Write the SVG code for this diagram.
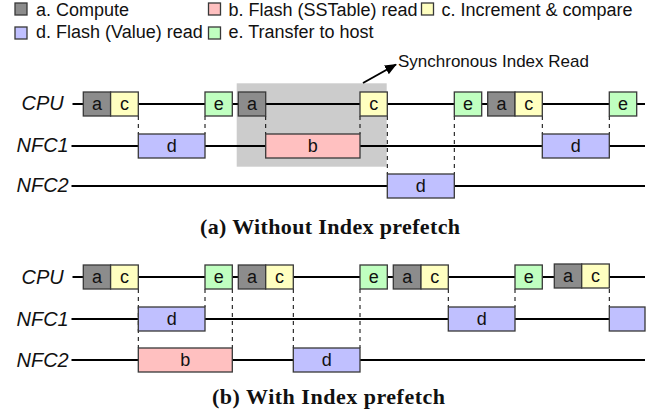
<svg xmlns="http://www.w3.org/2000/svg" width="670" height="417" viewBox="0 0 670 417">
  <defs>
    <style>
      .bx { stroke: #383838; stroke-width: 1.3; }
      .a { fill: #8c8c8c; }
      .b { fill: #ffc0c0; }
      .c { fill: #ffffc0; }
      .d { fill: #c0c0ff; }
      .e { fill: #c0ffc0; }
      .lbl { font-family: "Liberation Sans", Arial, sans-serif; font-size: 18px; fill: #111; text-anchor: middle; }
      .leg { font-family: "Liberation Sans", Arial, sans-serif; font-size: 18px; fill: #111; }
      .lane { font-family: "Liberation Sans", Arial, sans-serif; font-size: 20px; font-style: italic; fill: #111; }
      .cap { font-family: "Liberation Serif", "Times New Roman", serif; font-size: 22px; font-weight: bold; fill: #111; text-anchor: middle; }
      .note { font-family: "Liberation Sans", Arial, sans-serif; font-size: 17px; fill: #111; }
      .tl { stroke: #000; stroke-width: 2; fill: none; }
      .dash { stroke: #000; stroke-width: 1; stroke-dasharray: 4 4; fill: none; }
    </style>
    <marker id="arrowhead" viewBox="0 0 12 10" refX="11" refY="5" markerWidth="6" markerHeight="5" orient="auto">
      <path d="M0,0 L12,5 L0,10 z" fill="#000"/>
    </marker>
  </defs>

  <!-- legend -->
  <g id="legend">
    <rect class="bx a" x="15" y="3" width="12" height="12"/>
    <text class="leg" x="36" y="16">a. Compute</text>
    <rect class="bx b" x="208.5" y="3" width="12" height="12"/>
    <text class="leg" x="228.5" y="16">b. Flash (SSTable) read</text>
    <rect class="bx c" x="421.5" y="3" width="12" height="12"/>
    <text class="leg" x="441.5" y="16">c. Increment &amp; compare</text>
    <rect class="bx d" x="15" y="27" width="12" height="12"/>
    <text class="leg" x="36" y="37.5">d. Flash (Value) read</text>
    <rect class="bx e" x="208.5" y="27" width="12" height="12"/>
    <text class="leg" x="228.5" y="37.5">e. Transfer to host</text>
  </g>

  <!-- highlighted synchronous index read region -->
  <rect id="sync-region" x="236.7" y="83.3" width="150" height="83.4" fill="#cccccc"/>

  <!-- lane labels -->
  <g id="lanes">
    <text class="lane" x="21.5" y="110">CPU</text>
    <text class="lane" x="16.5" y="152">NFC1</text>
    <text class="lane" x="16.5" y="192">NFC2</text>
    <text class="lane" x="21.5" y="284">CPU</text>
    <text class="lane" x="16.5" y="326">NFC1</text>
    <text class="lane" x="16.5" y="367">NFC2</text>
  </g>

  <!-- connectors: timelines, dependency guides, callout arrow -->
  <g id="connectors">
    <line class="tl" x1="72.5" y1="104" x2="645" y2="104"/>
    <line class="tl" x1="71.5" y1="146" x2="645" y2="146"/>
    <line class="tl" x1="71.5" y1="186" x2="645" y2="186"/>
    <line class="tl" x1="72.5" y1="277" x2="645" y2="277"/>
    <line class="tl" x1="71.5" y1="319" x2="645" y2="319"/>
    <line class="tl" x1="71.5" y1="360" x2="645" y2="360"/>

    <line class="dash" x1="138.3" y1="116" x2="138.3" y2="134"/>
    <line class="dash" x1="205" y1="116" x2="205" y2="134"/>
    <line class="dash" x1="265.7" y1="116" x2="265.7" y2="134"/>
    <line class="dash" x1="360" y1="116" x2="360" y2="134"/>
    <line class="dash" x1="387.3" y1="116" x2="387.3" y2="174"/>
    <line class="dash" x1="454.3" y1="116" x2="454.3" y2="174"/>
    <line class="dash" x1="542.3" y1="116" x2="542.3" y2="134"/>
    <line class="dash" x1="609.3" y1="116" x2="609.3" y2="134"/>

    <line class="dash" x1="138.3" y1="289" x2="138.3" y2="348"/>
    <line class="dash" x1="205" y1="289" x2="205" y2="307"/>
    <line class="dash" x1="232.3" y1="289" x2="232.3" y2="348"/>
    <line class="dash" x1="293.3" y1="289" x2="293.3" y2="348"/>
    <line class="dash" x1="360" y1="289" x2="360" y2="348"/>
    <line class="dash" x1="448.3" y1="289" x2="448.3" y2="307"/>
    <line class="dash" x1="515" y1="289" x2="515" y2="307"/>
    <line class="dash" x1="609.3" y1="289" x2="609.3" y2="307"/>

    <line x1="363" y1="83" x2="396" y2="64.5" stroke="#000" stroke-width="2" marker-end="url(#arrowhead)"/>
  </g>
  <text class="note" x="398" y="67">Synchronous Index Read</text>

  <!-- (a) without index prefetch -->
  <g id="a-cpu-1"><rect class="bx a" x="83.3" y="92" width="27.3" height="24"/><text class="lbl" x="97" y="110">a</text></g>
  <g id="a-cpu-2"><rect class="bx c" x="110.6" y="92" width="27.7" height="24"/><text class="lbl" x="124.5" y="110">c</text></g>
  <g id="a-cpu-3"><rect class="bx e" x="205" y="92" width="27.3" height="24"/><text class="lbl" x="218.7" y="110">e</text></g>
  <g id="a-cpu-4"><rect class="bx a" x="238.3" y="92" width="27.4" height="24"/><text class="lbl" x="252" y="110">a</text></g>
  <g id="a-cpu-5"><rect class="bx c" x="360" y="92" width="27.3" height="24"/><text class="lbl" x="373.7" y="110">c</text></g>
  <g id="a-cpu-6"><rect class="bx e" x="454.3" y="92" width="27.4" height="24"/><text class="lbl" x="468" y="110">e</text></g>
  <g id="a-cpu-7"><rect class="bx a" x="487.7" y="92" width="27.3" height="24"/><text class="lbl" x="501.4" y="110">a</text></g>
  <g id="a-cpu-8"><rect class="bx c" x="515" y="92" width="27.3" height="24"/><text class="lbl" x="528.7" y="110">c</text></g>
  <g id="a-cpu-9"><rect class="bx e" x="609.3" y="92" width="27.4" height="24"/><text class="lbl" x="623" y="110">e</text></g>

  <g id="a-nfc1-1"><rect class="bx d" x="138.3" y="134" width="66.7" height="24"/><text class="lbl" x="171.7" y="152">d</text></g>
  <g id="a-nfc1-2"><rect class="bx b" x="265.7" y="134" width="94.3" height="24"/><text class="lbl" x="312.8" y="152">b</text></g>
  <g id="a-nfc1-3"><rect class="bx d" x="542.3" y="134" width="67" height="24"/><text class="lbl" x="575.8" y="152">d</text></g>

  <g id="a-nfc2-1"><rect class="bx d" x="387.3" y="174" width="67" height="24"/><text class="lbl" x="420.8" y="192">d</text></g>

  <text class="cap" x="330" y="234" textLength="260" lengthAdjust="spacing">(a) Without Index prefetch</text>

  <!-- (b) with index prefetch -->
  <g id="b-cpu-1"><rect class="bx a" x="83.3" y="265" width="27.3" height="24"/><text class="lbl" x="97" y="283">a</text></g>
  <g id="b-cpu-2"><rect class="bx c" x="110.6" y="265" width="27.7" height="24"/><text class="lbl" x="124.5" y="283">c</text></g>
  <g id="b-cpu-3"><rect class="bx e" x="205" y="265" width="27.3" height="24"/><text class="lbl" x="218.7" y="283">e</text></g>
  <g id="b-cpu-4"><rect class="bx a" x="238.3" y="265" width="27.4" height="24"/><text class="lbl" x="252" y="283">a</text></g>
  <g id="b-cpu-5"><rect class="bx c" x="265.7" y="265" width="27.6" height="24"/><text class="lbl" x="279.5" y="283">c</text></g>
  <g id="b-cpu-6"><rect class="bx e" x="360" y="265" width="27.3" height="24"/><text class="lbl" x="373.7" y="283">e</text></g>
  <g id="b-cpu-7"><rect class="bx a" x="393.3" y="265" width="27.7" height="24"/><text class="lbl" x="407.2" y="283">a</text></g>
  <g id="b-cpu-8"><rect class="bx c" x="421" y="265" width="27.3" height="24"/><text class="lbl" x="434.7" y="283">c</text></g>
  <g id="b-cpu-9"><rect class="bx e" x="515" y="265" width="27.3" height="24"/><text class="lbl" x="528.7" y="283">e</text></g>
  <g id="b-cpu-10"><rect class="bx a" x="554.3" y="264" width="27.4" height="24"/><text class="lbl" x="568" y="282">a</text></g>
  <g id="b-cpu-11"><rect class="bx c" x="581.7" y="264" width="27.6" height="24"/><text class="lbl" x="595.5" y="282">c</text></g>

  <g id="b-nfc1-1"><rect class="bx d" x="138.3" y="307" width="66.7" height="24"/><text class="lbl" x="171.7" y="325">d</text></g>
  <g id="b-nfc1-2"><rect class="bx d" x="448.3" y="307" width="66.7" height="24"/><text class="lbl" x="481.7" y="325">d</text></g>
  <g id="b-nfc1-3"><rect class="bx d" x="609.3" y="307" width="35.7" height="24"/></g>

  <g id="b-nfc2-1"><rect class="bx b" x="138.3" y="348" width="94" height="24"/><text class="lbl" x="185.3" y="366">b</text></g>
  <g id="b-nfc2-2"><rect class="bx d" x="293.3" y="348" width="66.7" height="24"/><text class="lbl" x="326.7" y="366">d</text></g>

  <text class="cap" x="328.5" y="404" textLength="233" lengthAdjust="spacing">(b) With Index prefetch</text>
</svg>
